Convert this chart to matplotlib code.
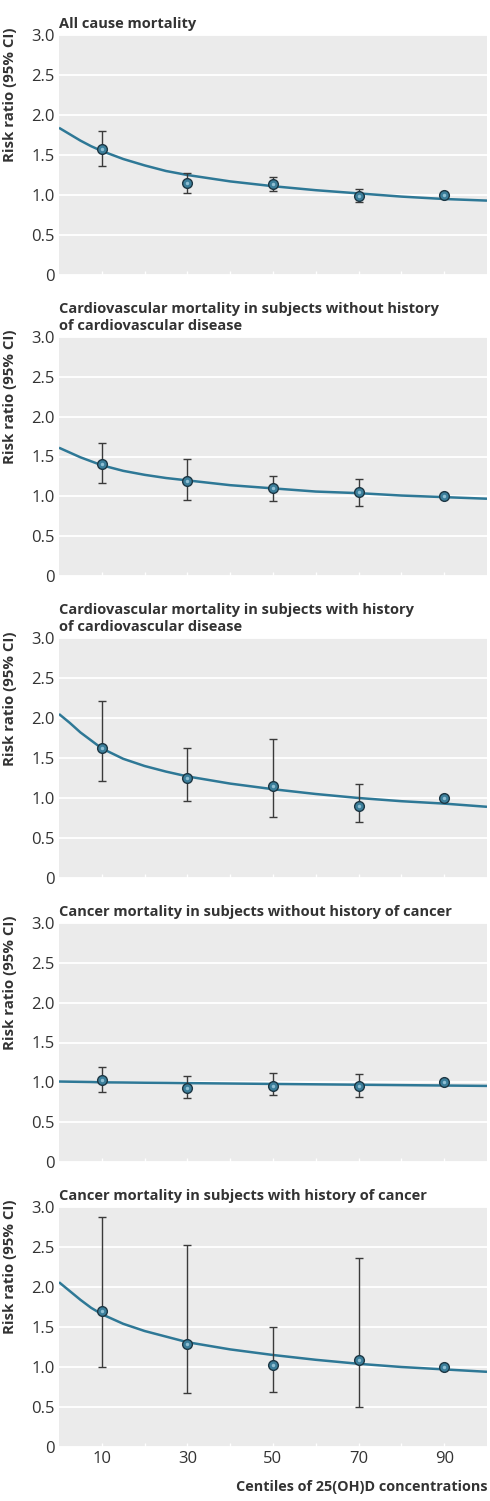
import numpy as np
from matplotlib import pyplot as plt

plt.rcParams['font.family'] = ['Open Sans', 'DejaVu Sans']

# centili di 25(OH)D
centiles = [10, 30, 50, 70, 90]
curve_x = [0, 2.5, 5, 7.5, 10, 15, 20, 25, 30, 40, 50, 60, 70, 80, 90, 100]

titles = ["All cause mortality",
          "Cardiovascular mortality in subjects without history\nof cardiovascular disease",
          "Cardiovascular mortality in subjects with history\nof cardiovascular disease",
          "Cancer mortality in subjects without history of cancer",
          "Cancer mortality in subjects with history of cancer"]

rr_all = [1.57, 1.15, 1.14, 0.99, 1.00]
lo_all = [1.36, 1.03, 1.05, 0.91, 1.00]
hi_all = [1.80, 1.28, 1.23, 1.07, 1.00]
fit_all = [1.84, 1.76, 1.68, 1.61, 1.55, 1.45, 1.37, 1.30, 1.25,
           1.17, 1.11, 1.06, 1.02, 0.98, 0.95, 0.93]

rr_cvd_no = [1.40, 1.19, 1.10, 1.06, 1.00]
lo_cvd_no = [1.17, 0.96, 0.94, 0.88, 1.00]
hi_cvd_no = [1.67, 1.47, 1.26, 1.22, 1.00]
fit_cvd_no = [1.61, 1.55, 1.49, 1.44, 1.39, 1.32, 1.27, 1.23, 1.20,
              1.14, 1.10, 1.06, 1.04, 1.01, 0.99, 0.97]

rr_cvd_yes = [1.63, 1.25, 1.15, 0.90, 1.00]
lo_cvd_yes = [1.21, 0.96, 0.76, 0.70, 1.00]
hi_cvd_yes = [2.21, 1.62, 1.74, 1.18, 1.00]
fit_cvd_yes = [2.05, 1.94, 1.82, 1.72, 1.62, 1.49, 1.40, 1.33, 1.27,
               1.18, 1.11, 1.05, 1.00, 0.96, 0.93, 0.89]

rr_can_no = [1.03, 0.93, 0.96, 0.95, 1.00]
lo_can_no = [0.88, 0.80, 0.84, 0.82, 1.00]
hi_can_no = [1.19, 1.08, 1.12, 1.11, 1.00]
fit_can_no = [1.01, 1.008, 1.006, 1.004, 1.00, 0.998, 0.995, 0.993, 0.99,
              0.985, 0.98, 0.975, 0.97, 0.965, 0.96, 0.955]

rr_can_yes = [1.70, 1.29, 1.02, 1.09, 1.00]
lo_can_yes = [1.00, 0.67, 0.69, 0.50, 1.00]
hi_can_yes = [2.88, 2.52, 1.50, 2.36, 1.00]
fit_can_yes = [2.06, 1.95, 1.84, 1.74, 1.66, 1.54, 1.45, 1.38, 1.31,
               1.22, 1.15, 1.09, 1.04, 1.00, 0.97, 0.94]

rr = [rr_all, rr_cvd_no, rr_cvd_yes, rr_can_no, rr_can_yes]
lo = [lo_all, lo_cvd_no, lo_cvd_yes, lo_can_no, lo_can_yes]
hi = [hi_all, hi_cvd_no, hi_cvd_yes, hi_can_no, hi_can_yes]
fits = [fit_all, fit_cvd_no, fit_cvd_yes, fit_can_no, fit_can_yes]

W, H = 490, 1501
fig = plt.figure(figsize=(W / 100, H / 100), dpi=100)

# posizioni dei pannelli in pixel (alto, basso)
panel_px = [(35, 275), (337, 576), (638, 878), (923, 1162), (1207, 1447)]
left, right = 59, 487

line_col = "#2e7896"
bg_col = "#ebebeb"
txt_col = "#333333"

for i, (top, bot) in enumerate(panel_px):
    ax = fig.add_axes([left / W, 1 - bot / H, (right - left) / W, (bot - top) / H])
    ax.set_facecolor(bg_col)
    for s in ax.spines.values():
        s.set_visible(False)

    ax.set_xlim(0, 100)
    ax.set_ylim(0, 3.0)
    ax.set_yticks(np.arange(0, 3.01, 0.5))
    ax.set_yticklabels(["0", "0.5", "1.0", "1.5", "2.0", "2.5", "3.0"])
    ax.grid(axis='y', color='white', linewidth=1.3)
    ax.set_axisbelow(True)
    ax.tick_params(axis='y', length=0, pad=3, labelsize=12, labelcolor=txt_col)

    ax.set_xticks(np.arange(10, 91, 10))
    ax.tick_params(axis='x', direction='in', length=3, width=1, color='white',
                   pad=3, labelsize=12, labelcolor=txt_col)
    if i == len(panel_px) - 1:
        ax.set_xticklabels([str(c) if c in centiles else "" for c in range(10, 91, 10)])
    else:
        ax.set_xticklabels([])

    y = np.array(rr[i])
    err = [y - np.array(lo[i]), np.array(hi[i]) - y]
    ax.plot(curve_x, fits[i], color=line_col, linewidth=1.8, zorder=2,
            solid_capstyle='butt')
    ax.errorbar(centiles, y, yerr=err, fmt='none', ecolor='#3a3a3a',
                elinewidth=1, capsize=3, capthick=1, zorder=3)
    ax.plot(centiles, y, 'o', markersize=7, markerfacecolor='#3b7e9a',
            markeredgecolor='#1d3744', markeredgewidth=1, zorder=4)
    ax.plot(centiles, y, 'o', markersize=2.5, markerfacecolor='#8fbfd3',
            markeredgewidth=0, zorder=5)

    # etichetta y allineata in alto, come nell'originale
    ax.set_ylabel("Risk ratio (95% CI)", fontsize=10.8, fontweight='bold',
                  color=txt_col, loc='top')
    ax.yaxis.set_label_coords(-42 / (right - left), 1 + 7 / (bot - top))
    ax.set_title(titles[i], loc='left', fontsize=10.5, fontweight='bold',
                 color=txt_col, pad=5, linespacing=1.3)

fig.text(right / W, 1 - 1487 / H, "Centiles of 25(OH)D concentrations",
         ha='right', va='center', fontsize=10.4, fontweight='bold', color=txt_col)

fig.savefig("out.png", dpi=100, facecolor='white')
